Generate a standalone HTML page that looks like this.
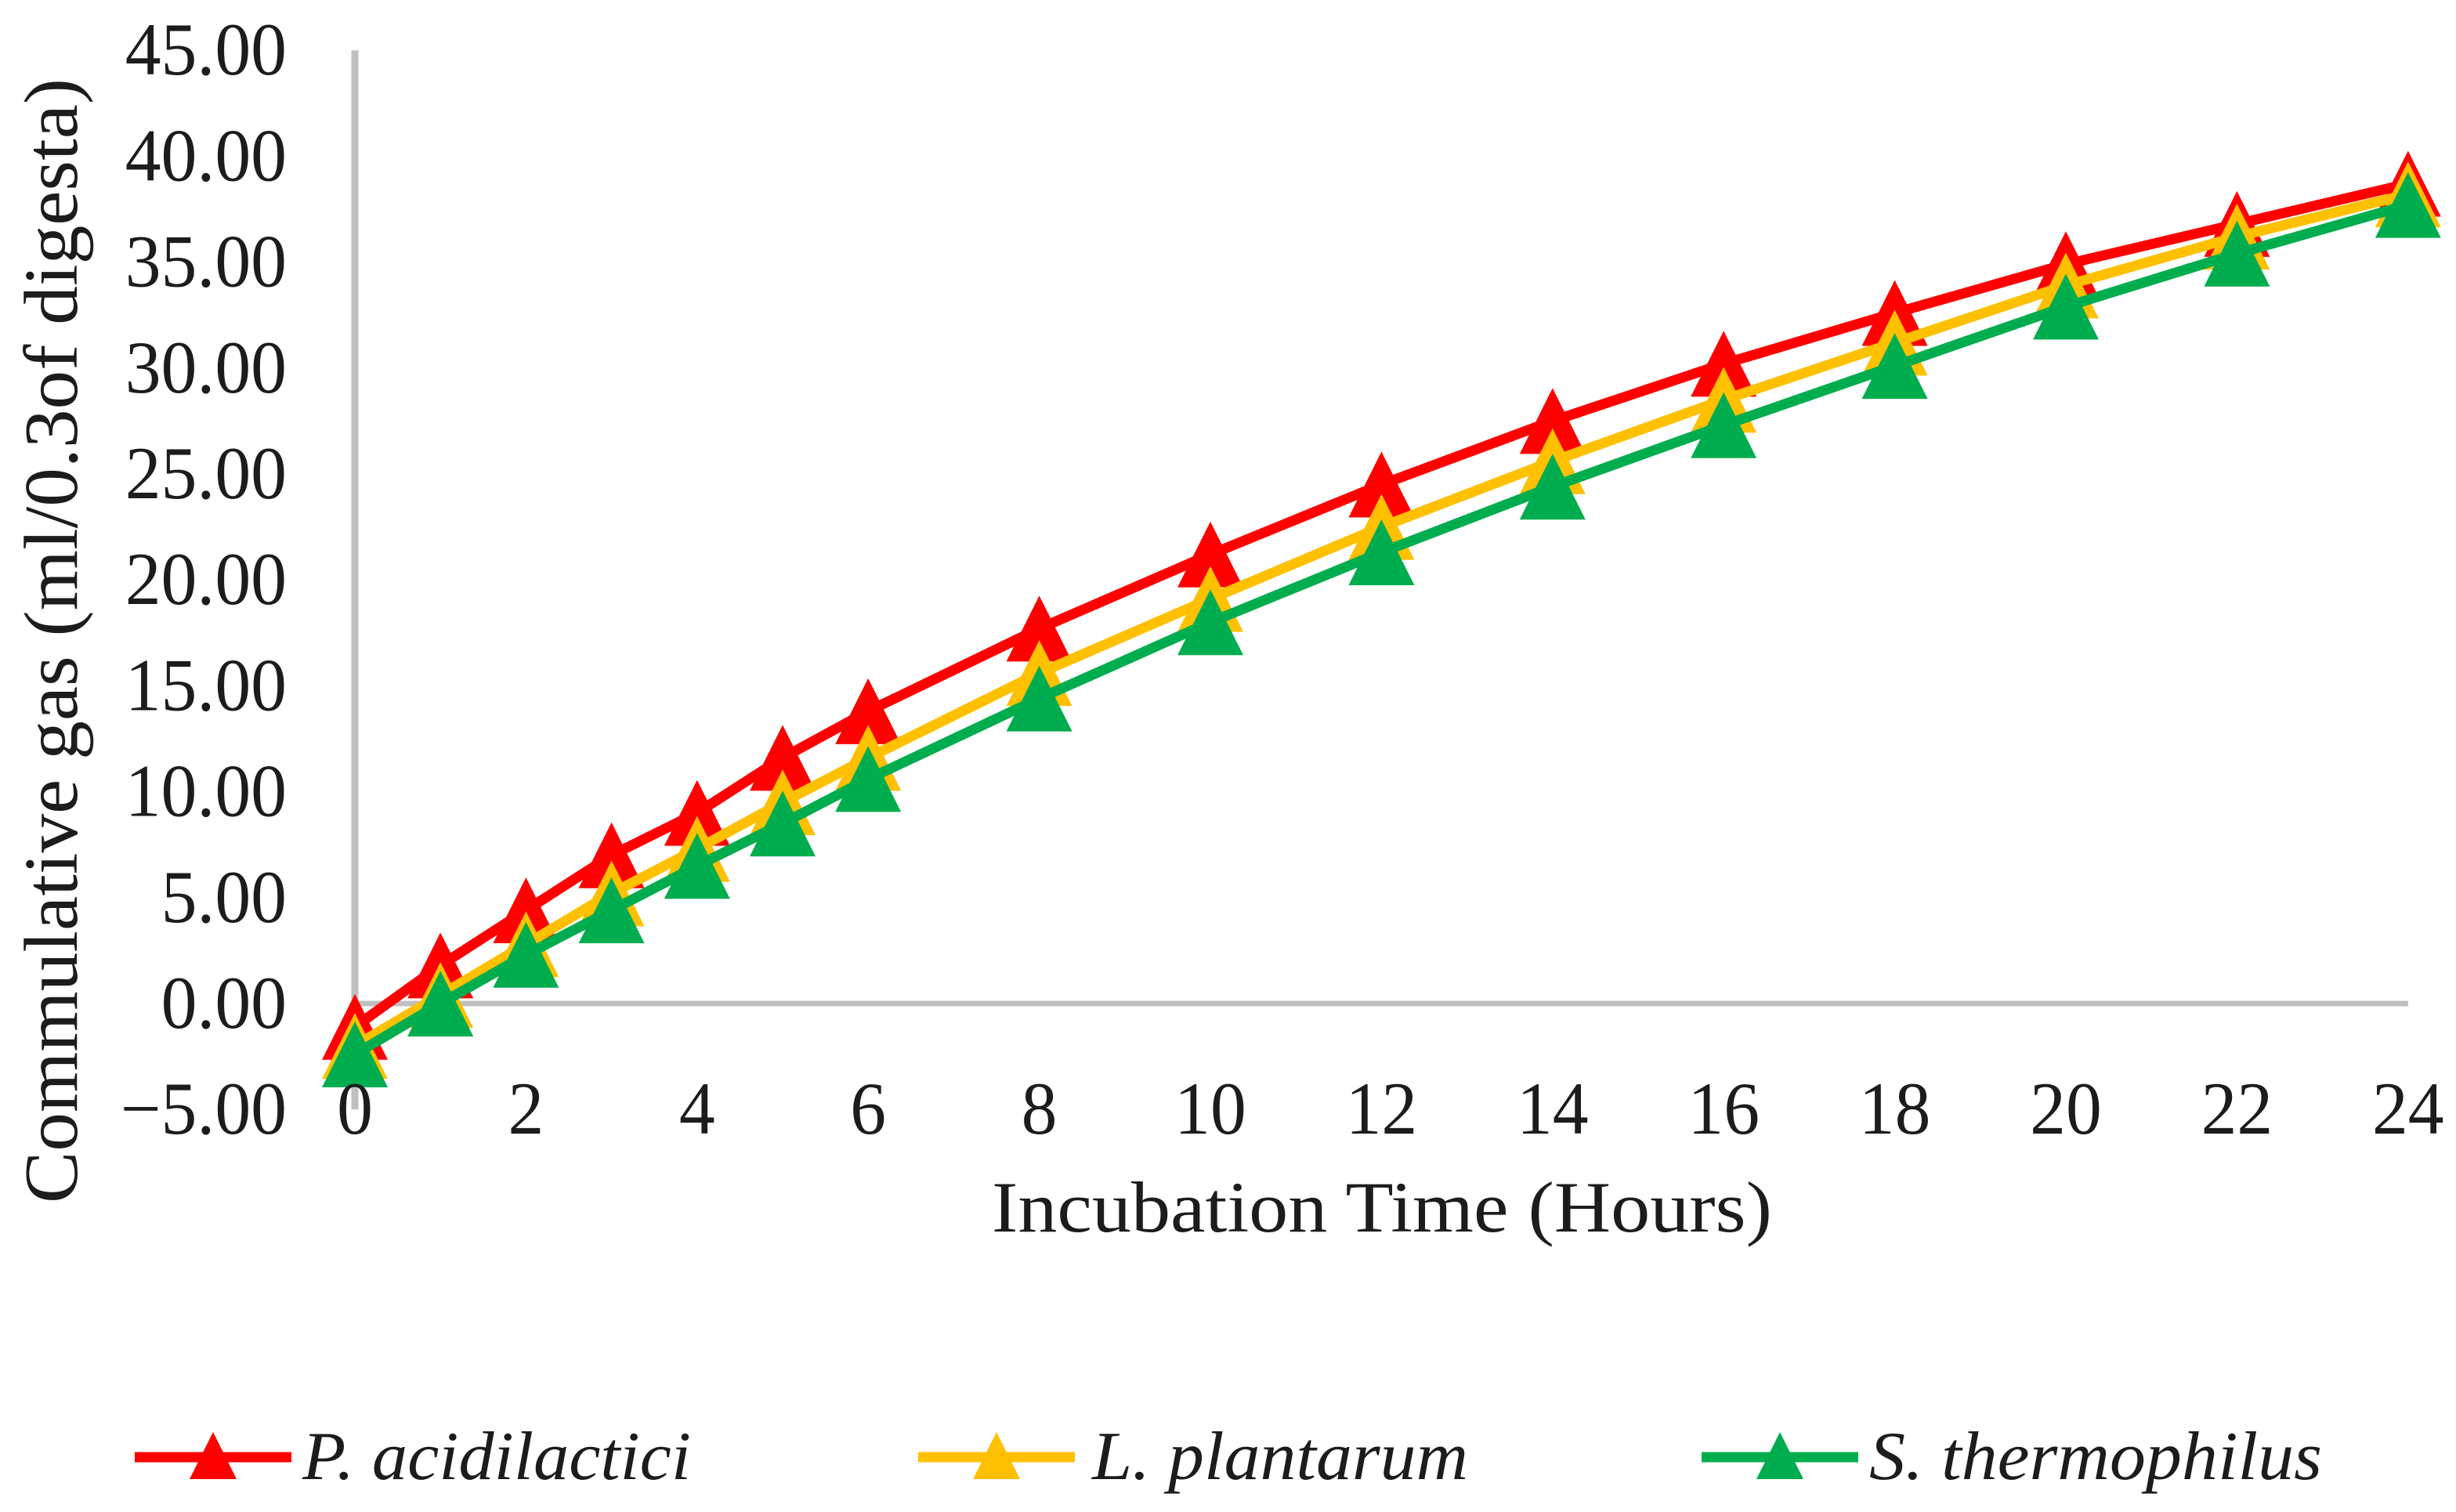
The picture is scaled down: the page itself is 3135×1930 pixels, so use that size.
<!DOCTYPE html>
<html lang="en">
<head>
<meta charset="utf-8">
<title>Cumulative gas chart</title>
<style>
html,body{margin:0;padding:0;background:#fff;width:3135px;height:1930px;overflow:hidden}
svg{display:block}
text{font-family:"Liberation Serif",serif;fill:#1c1c1c}
</style>
</head>
<body>
<svg id="chart" xmlns="http://www.w3.org/2000/svg" width="3135" height="1930" viewBox="0 0 3135 1930">
<rect width="3135" height="1930" fill="#fff"/>
<g id="axes"></g>
<g id="series"></g>
<g id="labels"></g>
<text transform="translate(98,818) rotate(-90)" text-anchor="middle" font-size="98" textLength="1436" lengthAdjust="spacingAndGlyphs">Commulative gas (ml/0.3of digesta)</text>
<text x="1764" y="1572" text-anchor="middle" font-size="92" textLength="996" lengthAdjust="spacingAndGlyphs">Incubation Time (Hours)</text>
<g id="legend"></g>
</svg>
<script>
const hours = [0, 1, 2, 3, 4, 5, 6, 8, 10, 12, 14, 16, 18, 20, 22, 24];
const pAcidilactici = [-1.1, 1.8, 4.4, 7.0, 9.0, 11.6, 13.8, 17.7, 21.2, 24.5, 27.5, 30.2, 32.6, 34.9, 36.8, 38.7];
const lPlantarum = [-2.0, 0.4, 2.8, 5.2, 7.3, 9.5, 11.6, 15.6, 19.1, 22.5, 25.6, 28.5, 31.2, 33.9, 36.2, 38.2];
const sThermophilus = [-2.4, 0.0, 2.3, 4.4, 6.5, 8.5, 10.6, 14.4, 18.0, 21.3, 24.4, 27.3, 30.1, 32.9, 35.4, 37.7];
const xTickValues = [0, 2, 4, 6, 8, 10, 12, 14, 16, 18, 20, 22, 24];
const yTickValues = [45, 40, 35, 30, 25, 20, 15, 10, 5, 0, -5];
const seriesNames = ['P. acidilactici', 'L. plantarum', 'S. thermophilus'];
const seriesColors = ['#ff0000', '#ffc000', '#00ad4e'];
const seriesValues = [pAcidilactici, lPlantarum, sThermophilus];

const NS = 'http://www.w3.org/2000/svg';
function xAxis(h) { return 453 + h * 109.2; }
function yAxis(v) { return 1281 - v * 27.04; }
function make(tag, parent, attrs) {
  const el = document.createElementNS(NS, tag);
  for (const k in attrs) el.setAttribute(k, attrs[k]);
  parent.appendChild(el);
  return el;
}
function triPoints(cx, cy, w, h) {
  return (cx - w / 2) + ',' + (cy + h / 2) + ' ' + (cx + w / 2) + ',' + (cy + h / 2) + ' ' + cx + ',' + (cy - h / 2);
}

const axes = document.getElementById('axes');
const yLine = make('line', axes, { x1: xAxis(0), x2: xAxis(0), y1: yAxis(45), y2: yAxis(-5), stroke: '#bfbfbf', 'stroke-width': 9 });


const xLine = make('line', axes, { x1: xAxis(0), x2: xAxis(24), y1: yAxis(0), y2: yAxis(0), stroke: '#bfbfbf', 'stroke-width': 7 });



const labels = document.getElementById('labels');
yTickValues.forEach(function (v) {
  const t = make('text', labels, { x: 366, y: yAxis(v) + 31, 'text-anchor': 'end', 'font-size': 95 });
  
  
  t.textContent = (v < 0 ? '\u2212' : '') + Math.abs(v).toFixed(2);
  t.setAttribute('textLength', t.getComputedTextLength() * 0.965);
  t.setAttribute('lengthAdjust', 'spacingAndGlyphs');
});
xTickValues.forEach(function (h) {
  const t = make('text', labels, { x: xAxis(h), y: yAxis(-5) + 31, 'text-anchor': 'middle', 'font-size': 95 });
  
  
  t.textContent = String(h);
  t.setAttribute('textLength', t.getComputedTextLength() * 0.965);
  t.setAttribute('lengthAdjust', 'spacingAndGlyphs');
});

const seriesRoot = document.getElementById('series');
seriesValues.forEach(function (vals, s) {
  const g = make('g', seriesRoot, {});
  
  
  const pts = hours.map(function (h, i) { return xAxis(h) + ',' + yAxis(vals[i]); }).join(' ');
  const line = make('polyline', g, { points: pts, fill: 'none', stroke: seriesColors[s], 'stroke-width': 13, 'stroke-linejoin': 'round' });
  
  
  hours.forEach(function (h, i) {
    const m = make('polygon', g, { points: triPoints(xAxis(h), yAxis(vals[i]), 84, 84), fill: seriesColors[s] });
    
    
  });
});

const legend = document.getElementById('legend');
const legendLineStarts = [172, 1172, 2172];
const legendTextStarts = [386, 1394, 2386];
const legendTextWidths = [496, 480, 578];
seriesNames.forEach(function (name, s) {
  const g = make('g', legend, {});
  
  
  const l = make('line', g, { x1: legendLineStarts[s], x2: legendLineStarts[s] + 200, y1: 1860, y2: 1860, stroke: seriesColors[s], 'stroke-width': 13 });
  
  
  const m = make('polygon', g, { points: triPoints(legendLineStarts[s] + 100, 1858, 60, 60), fill: seriesColors[s] });
  
  
  const t = make('text', g, { x: legendTextStarts[s], y: 1888, 'font-size': 88, 'font-style': 'italic', textLength: legendTextWidths[s], lengthAdjust: 'spacingAndGlyphs' });
  
  
  t.textContent = name;
});
</script>
</body>
</html>
